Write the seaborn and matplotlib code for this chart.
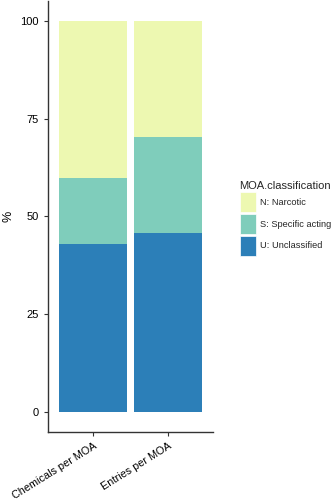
import matplotlib
matplotlib.use("Agg")
import matplotlib.pyplot as plt
from matplotlib.patches import Patch
import seaborn as sns
import pandas as pd
import numpy as np

categories = ["Chemicals per MOA", "Entries per MOA"]
classes = ["N: Narcotic", "S: Specific acting", "U: Unclassified"]
unclassified = [42.9, 45.9]
specific = [16.8, 24.4]
narcotic = [40.3, 29.7]
colors = {"N: Narcotic": "#edf8b1", "S: Specific acting": "#7fcdbb", "U: Unclassified": "#2c7fb8"}

sns.set_theme(style="ticks")
plt.rcParams['font.family'] = ['Liberation Sans', 'DejaVu Sans']

fig = plt.figure(figsize=(3.31, 5.0), dpi=100)
ax = fig.add_axes([48/331, 68/500, (213-48)/331, (499-68)/500])

u = np.array(unclassified)
s = u + np.array(specific)
n = s + np.array(narcotic)
layers = [("N: Narcotic", n), ("S: Specific acting", s), ("U: Unclassified", u)]
for name, vals in layers:
    df = pd.DataFrame({"cat": categories, "val": vals})
    sns.barplot(data=df, x="cat", y="val", color=colors[name], width=0.9,
                linewidth=0, ax=ax, saturation=1)

ax.set_xlim(-0.6, 1.6)
ax.set_ylim(-5, 105)
ax.set_yticks([0, 25, 50, 75, 100])
ax.set_yticklabels(["0", "25", "50", "75", "100"])
ax.set_xlabel("")
ax.set_ylabel("%", fontsize=9, color="black", labelpad=4)
ax.tick_params(axis="both", labelsize=8, colors="#333333", labelcolor="black", length=3, width=0.8)
ax.tick_params(axis="x", labelsize=7.8)
for lab in ax.get_xticklabels():
    lab.set_rotation(32)
    lab.set_ha("right")
    lab.set_rotation_mode("anchor")
for sp in ["top", "right"]:
    ax.spines[sp].set_visible(False)
for sp in ["left", "bottom"]:
    ax.spines[sp].set_color("#333333")
    ax.spines[sp].set_linewidth(1.0)

handles = [Patch(facecolor=colors[c], edgecolor="white", linewidth=0.5, label=c) for c in classes]
leg = fig.legend(handles=handles, title="MOA.classification", loc="upper left",
                 bbox_to_anchor=(233/331, 1 - 174/500), frameon=False,
                 fontsize=6.7, title_fontsize=8, handlelength=1.75, handleheight=3.0,
                 labelspacing=0.15, handletextpad=0.5, borderpad=0.2, alignment="left")

fig.savefig("out.png", dpi=100)
